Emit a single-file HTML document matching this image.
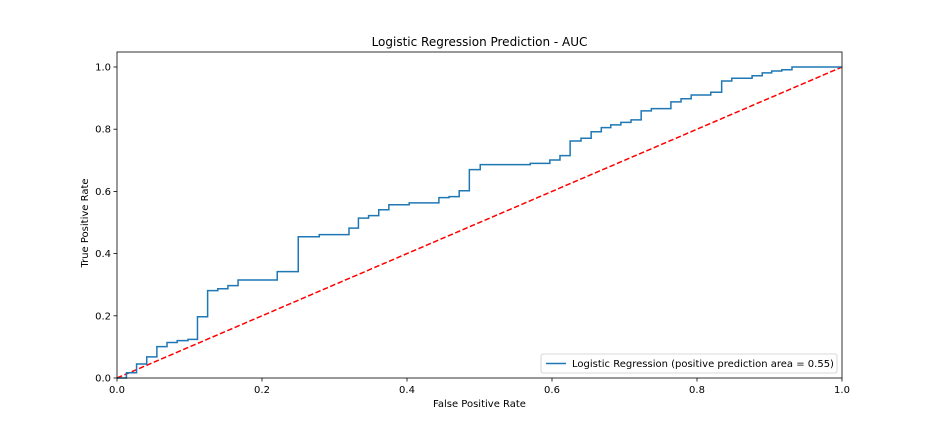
<!DOCTYPE html>
<html><head><meta charset="utf-8"><style>
body{margin:0;background:#fff;font-family:"DejaVu Sans","Liberation Sans",sans-serif;}
svg text{font-family:"DejaVu Sans","Liberation Sans",sans-serif;fill:#000;}
</style></head><body>
<svg id="chart" width="936" height="432" xmlns="http://www.w3.org/2000/svg">
<rect width="936" height="432" fill="#fff"/>
<g id="plot"></g>
</svg>
<script>
const fpr=[0,0.013,0.027,0.041,0.055,0.069,0.083,0.098,0.111,0.125,0.139,0.153,0.167,0.221,0.250,0.279,0.320,0.333,0.347,0.361,0.375,0.403,0.444,0.458,0.472,0.486,0.501,0.570,0.597,0.611,0.625,0.640,0.654,0.668,0.681,0.695,0.709,0.723,0.737,0.764,0.778,0.792,0.819,0.834,0.848,0.876,0.890,0.903,0.917,0.931,1.0];
const tpr=[0,0.017,0.045,0.068,0.101,0.114,0.120,0.124,0.197,0.281,0.287,0.297,0.315,0.342,0.454,0.461,0.482,0.514,0.522,0.541,0.557,0.563,0.580,0.583,0.602,0.670,0.686,0.690,0.701,0.715,0.762,0.771,0.792,0.805,0.814,0.822,0.830,0.859,0.866,0.888,0.898,0.910,0.919,0.955,0.964,0.972,0.981,0.987,0.991,1.0,1.0];
const xTicks=[0,0.2,0.4,0.6,0.8,1.0];
const xTickLabels=["0.0","0.2","0.4","0.6","0.8","1.0"];
const yTicks=[0,0.2,0.4,0.6,0.8,1.0];
const yTickLabels=["0.0","0.2","0.4","0.6","0.8","1.0"];
const L=117,R=842,T=52,B=378;
const X=v=>L+v*(R-L);
const Y=v=>B-v*311;
const NS="http://www.w3.org/2000/svg";
const g=document.getElementById('plot');
function mk(tag,attrs){const e=document.createElementNS(NS,tag);for(const k in attrs)e.setAttribute(k,attrs[k]);g.appendChild(e);return e;}
let d=mk('line',{x1:X(0),y1:Y(0),x2:X(1),y2:Y(1),stroke:'#ff0000','stroke-width':1.5,'stroke-dasharray':'5.5,2.5'});


let p='M'+X(fpr[0])+','+Y(tpr[0]);
for(let i=1;i<fpr.length;i++){p+=' L'+X(fpr[i])+','+Y(tpr[i-1])+' L'+X(fpr[i])+','+Y(tpr[i]);}
let c=mk('path',{d:p,fill:'none',stroke:'#1f77b4','stroke-width':1.5});


let f=mk('rect',{x:L,y:T,width:R-L,height:B-T,fill:'none',stroke:'#000','stroke-width':0.8});


xTicks.forEach((v,i)=>{
  mk('line',{x1:X(v),y1:B,x2:X(v),y2:B+3.5,stroke:'#000','stroke-width':0.8});
  let t=mk('text',{x:X(v),y:B+15,'font-size':10,'text-anchor':'middle'});t.textContent=xTickLabels[i];
  
  
});
yTicks.forEach((v,i)=>{
  mk('line',{x1:L-3.5,y1:Y(v),x2:L,y2:Y(v),stroke:'#000','stroke-width':0.8});
  let t=mk('text',{x:L-6,y:Y(v)+3.5,'font-size':10,'text-anchor':'end'});t.textContent=yTickLabels[i];
  
  
});
let ti=mk('text',{x:(L+R)/2,y:46,'font-size':12,'text-anchor':'middle'});ti.textContent='Logistic Regression Prediction - AUC';


let xl=mk('text',{x:(L+R)/2,y:407,'font-size':10,'text-anchor':'middle'});xl.textContent='False Positive Rate';


let yl=mk('text',{x:88,y:(T+B)/2+8,'font-size':10,'text-anchor':'middle',transform:'rotate(-90 88 '+((T+B)/2+8)+')'});yl.textContent='True Positive Rate';


let lb=mk('rect',{x:541,y:354,width:296,height:19,rx:2,fill:'#fff','fill-opacity':0.8,stroke:'#ccc','stroke-width':0.8});


mk('line',{x1:546,y1:363.5,x2:566,y2:363.5,stroke:'#1f77b4','stroke-width':1.5});
let lt=mk('text',{x:572,y:367,'font-size':10});lt.textContent='Logistic Regression (positive prediction area = 0.55)';


</script>
</body></html>
